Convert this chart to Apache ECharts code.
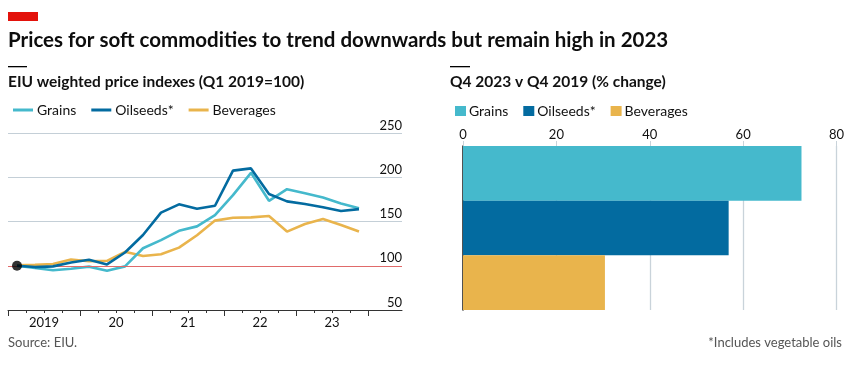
<!DOCTYPE html>
<html><head><meta charset="utf-8">
<script src="https://cdn.jsdelivr.net/npm/echarts@6/dist/echarts.min.js"></script>
<style>html,body{margin:0;padding:0;background:#fff}#c{width:865px;height:366px}</style>
</head><body><div id="c"></div>
<script>
// Quarterly index values, Q1 2019 .. Q4 2023 (Q1 2019 = 100)
const quarters = ['2019Q1','2019Q2','2019Q3','2019Q4','2020Q1','2020Q2','2020Q3','2020Q4','2021Q1','2021Q2','2021Q3','2021Q4','2022Q1','2022Q2','2022Q3','2022Q4','2023Q1','2023Q2','2023Q3','2023Q4'];
const grains    = [100, 97.4, 95, 96.6, 99, 94.4, 99.3, 119.8, 129, 139.5, 144.5, 157.3, 179.8, 205, 173.4, 186.5, 182, 177, 170.4, 165];
const oilseeds  = [100, 98.5, 99.3, 103.7, 106.7, 101.5, 115, 134.7, 160, 169.4, 164.5, 167.8, 207.5, 210, 181, 172.7, 169.7, 166, 161.8, 164];
const beverages = [100.4, 101, 102, 107, 105, 105.6, 115.7, 111, 113, 120.5, 134.5, 151, 154.3, 154.7, 156.2, 138.6, 147.2, 152.8, 146, 138.6];
const yearLabels = ['2019','20','21','22','23'];
const yTicks = [50, 100, 150, 200, 250];
// Q4 2023 v Q4 2019, % change
const barCats = ['Grains','Oilseeds*','Beverages'];
const barValues = [72.5, 56.9, 30.4];
const xBarTicks = [0, 20, 40, 60, 80];

const colors = {Grains:'#45b9cc', 'Oilseeds*':'#036ba0', Beverages:'#e9b44c'};
const FONT = 'Lato';
const toPts = arr => arr.map((v,i)=>[i, v]);

const majorTicks = [], minorTicks = [], labelPos = [];
for (let y = 0; y <= 5; y++) majorTicks.push(-0.5 + 4*y);
for (let q = 0; q <= 20; q++) if (q % 4) minorTicks.push(-0.5 + q);
yearLabels.forEach((l,i)=>labelPos.push(1.5 + 4*i));

const chart = echarts.init(document.getElementById('c'), null, {renderer:'canvas'});
const lineSeries = (name, data, z) => ({
  type:'line', name, data: toPts(data), xAxisIndex:0, yAxisIndex:0,
  showSymbol:false, symbol:'none', lineStyle:{width:2.6, color:colors[name]}, itemStyle:{color:colors[name]},
  z, animation:false
});
const barSeries = (name, idx) => ({
  type:'bar', name, stack:'b', xAxisIndex:2, yAxisIndex:1, barWidth:'100%',
  data: barCats.map((c,i)=> i===idx ? barValues[i] : '-'),
  itemStyle:{color:colors[name]}, animation:false
});

chart.setOption({
  animation:false,
  textStyle:{fontFamily:FONT},
  grid:[
    {left:8, top:133, width:394, height:177},
    {left:463, top:146, width:373.5, height:164}
  ],
  xAxis:[
    {type:'value', gridIndex:0, min:-0.5, max:21.39, position:'bottom',
     axisLine:{show:true, lineStyle:{color:'#333', width:1}},
     axisTick:{show:true, customValues:majorTicks, length:6, lineStyle:{color:'#333'}},
     axisLabel:{show:true, customValues:labelPos, margin:6, color:'#111', fontSize:13, fontFamily:FONT,
       formatter:v=>yearLabels[Math.round((v-1.5)/4)]},
     splitLine:{show:false}},
    {type:'value', gridIndex:0, min:-0.5, max:21.39, position:'bottom',
     axisLine:{show:false},
     axisTick:{show:true, customValues:minorTicks, length:3, lineStyle:{color:'#333'}},
     axisLabel:{show:false}, splitLine:{show:false}},
    {type:'value', gridIndex:1, min:0, max:80, interval:20, position:'top',
     axisLine:{show:false},
     axisTick:{show:true, length:5, lineStyle:{color:'#c9d3da'}},
     axisLabel:{color:'#111', fontSize:13, fontFamily:FONT, margin:5},
     splitLine:{show:true, lineStyle:{color:'#c9d3da', width:1.3}}}
  ],
  yAxis:[
    {type:'value', gridIndex:0, min:50, max:250, interval:50, position:'right',
     axisLine:{show:false}, axisTick:{show:false},
     axisLabel:{inside:true, margin:0, color:'#111', fontSize:13, fontFamily:FONT, verticalAlign:'bottom', padding:[0,0,1,0]},
     splitLine:{show:true, lineStyle:{color:'#c4cfd7', width:1}}},
    {type:'category', gridIndex:1, data:barCats, inverse:true,
     axisLine:{show:true, lineStyle:{color:'#1a1a1a', width:1.5}},
     axisTick:{show:false}, axisLabel:{show:false}, splitLine:{show:false}}
  ],
  legend:[
    {left:8, top:98, itemWidth:20, itemHeight:3, itemGap:15, icon:'rect',
     data:['Grains','Oilseeds*','Beverages'], selectedMode:false,
     textStyle:{fontFamily:FONT, fontSize:14, color:'#111', padding:[0,0,0,-1]}},
    {left:450, top:99, itemWidth:11, itemHeight:10, itemGap:15, icon:'rect',
     data:['Grains','Oilseeds*','Beverages'], selectedMode:false,
     textStyle:{fontFamily:FONT, fontSize:14, color:'#111', padding:[0,0,0,-2]}}
  ],
  series:[
    Object.assign(lineSeries('Beverages', beverages, 3), {
      markLine:{silent:true, symbol:'none', label:{show:false}, lineStyle:{color:'#e06a6a', width:1, type:'solid'},
        data:[{yAxis:100}], animation:false}
    }),
    lineSeries('Grains', grains, 4),
    lineSeries('Oilseeds*', oilseeds, 5),
    {type:'scatter', xAxisIndex:0, yAxisIndex:0, data:[[0, grains[0]]], symbolSize:10,
     itemStyle:{color:'#000'}, z:10, silent:true},
    barSeries('Grains',0), barSeries('Oilseeds*',1), barSeries('Beverages',2)
  ],
  graphic:[
    {type:'rect', shape:{x:8, y:12, width:30, height:9}, style:{fill:'#e3120b'}},
    {type:'text', x:8, y:30, style:{text:'Prices for soft commodities to trend downwards but remain high in 2023', font:'bold 20.5px '+FONT, fill:'#0d0d0d'}},
    {type:'rect', shape:{x:8, y:66, width:19, height:1.3}, style:{fill:'#000'}},
    {type:'text', x:8, y:74, style:{text:'EIU weighted price indexes (Q1 2019=100)', font:'bold 15.5px '+FONT, fill:'#111'}},
    {type:'rect', shape:{x:450, y:66, width:20, height:1.3}, style:{fill:'#000'}},
    {type:'text', x:450, y:74, style:{text:'Q4 2023 v Q4 2019 (% change)', font:'bold 15.5px '+FONT, fill:'#111'}},
    {type:'text', x:8, y:336, style:{text:'Source: EIU.', font:'13px '+FONT, fill:'#555'}},
    {type:'text', x:842, y:336, style:{text:'*Includes vegetable oils', font:'13px '+FONT, fill:'#555', textAlign:'right'}}
  ]
});
</script></body></html>
